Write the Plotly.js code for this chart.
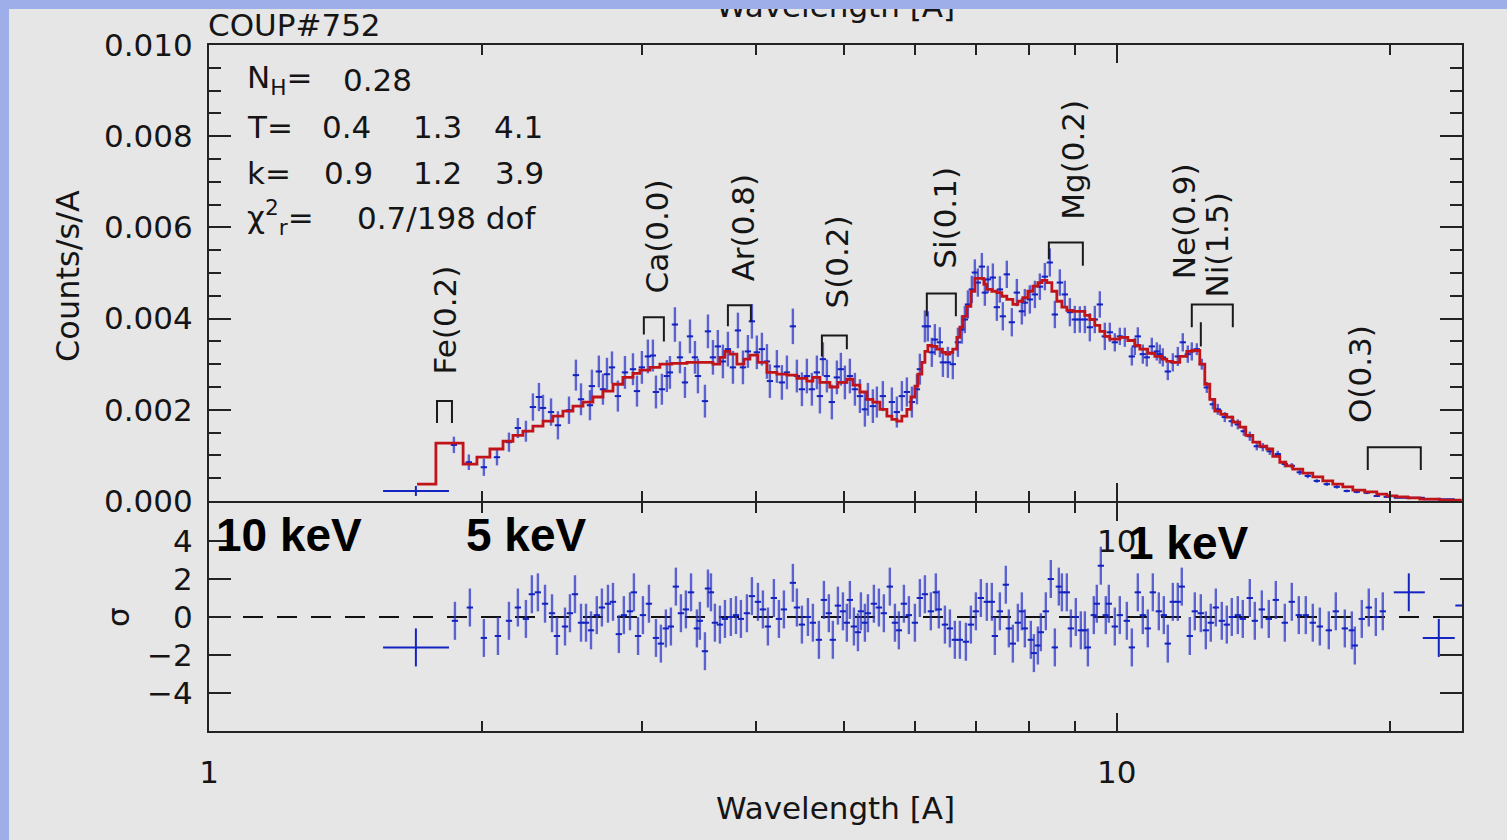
<!DOCTYPE html>
<html><head><meta charset="utf-8">
<script src="https://cdn.plot.ly/plotly-3.0.1.min.js"></script>
<style>
html,body{margin:0;padding:0;background:#9daee9;width:1507px;height:840px;overflow:hidden;}
#chart{position:absolute;left:9px;top:9px;width:1498px;height:831px;}
</style></head><body><div id="chart"></div><script>
// ---- model (red step line), wavelength [A] and counts/s/A ----
const modelWave = [1.695,1.778,1.905,1.973,2.039,2.108,2.162,2.217,2.274,2.333,2.392,2.454,2.517,2.582,2.648,2.716,2.786,2.857,2.931,2.983,3.060,3.138,3.235,3.361,3.473,3.590,3.654,3.701,3.748,3.815,3.884,3.943,4.024,4.117,4.222,4.331,4.442,4.556,4.626,4.709,4.829,4.929,5.042,5.120,5.212,5.305,5.386,5.483,5.581,5.652,5.724,5.797,5.871,5.931,5.992,6.037,6.099,6.146,6.192,6.255,6.335,6.416,6.482,6.548,6.597,6.665,6.716,6.767,6.836,6.906,6.976,7.065,7.137,7.191,7.283,7.376,7.470,7.565,7.682,7.780,7.879,7.980,8.082,8.185,8.268,8.373,8.480,8.588,8.699,8.809,8.944,9.104,9.221,9.338,9.457,9.578,9.700,9.824,9.949,10.076,10.283,10.467,10.601,10.817,11.011,11.209,11.351,11.526,11.732,11.942,12.094,12.249,12.342,12.500,12.659,12.821,13.017,13.217,13.420,13.660,13.870,14.118,14.371,14.628,14.852,15.118,15.351,15.625,16.026,16.439,16.861,17.294,17.738,18.194,18.756,19.336,19.832,20.342,20.917,21.564,22.685,23.985];
const modelFlux = [0.00037,0.00127,0.00081,0.00096,0.00114,0.00131,0.00144,0.00153,0.00164,0.00175,0.00186,0.00197,0.00208,0.00217,0.00228,0.00241,0.00256,0.00271,0.00280,0.00287,0.00293,0.00300,0.00302,0.00304,0.00304,0.00300,0.00315,0.00328,0.00322,0.00300,0.00311,0.00320,0.00304,0.00282,0.00278,0.00276,0.00269,0.00263,0.00271,0.00260,0.00250,0.00260,0.00267,0.00254,0.00239,0.00223,0.00217,0.00201,0.00186,0.00179,0.00175,0.00186,0.00201,0.00228,0.00252,0.00278,0.00304,0.00328,0.00341,0.00339,0.00333,0.00326,0.00322,0.00326,0.00333,0.00359,0.00381,0.00405,0.00427,0.00460,0.00488,0.00488,0.00475,0.00464,0.00460,0.00457,0.00449,0.00442,0.00431,0.00438,0.00446,0.00460,0.00471,0.00479,0.00484,0.00479,0.00460,0.00438,0.00425,0.00418,0.00416,0.00416,0.00407,0.00398,0.00385,0.00372,0.00361,0.00355,0.00355,0.00359,0.00352,0.00341,0.00333,0.00324,0.00317,0.00311,0.00306,0.00304,0.00317,0.00328,0.00330,0.00330,0.00300,0.00256,0.00223,0.00197,0.00190,0.00184,0.00173,0.00162,0.00144,0.00129,0.00120,0.00114,0.00098,0.00085,0.00077,0.00070,0.00061,0.00053,0.00044,0.00037,0.00031,0.00024,0.00020,0.00015,0.00011,0.00009,0.00007,0.00004,0.00002,0.00002];

// ---- observed spectrum (blue crosses) ----
const dataWave = [1.861,1.933,2.008,2.076,2.140,2.189,2.234,2.274,2.309,2.333,2.381,2.423,2.492,2.536,2.569,2.628,2.641,2.688,2.716,2.744,2.779,2.821,2.872,2.931,2.961,2.998,3.044,3.083,3.107,3.154,3.194,3.219,3.260,3.302,3.344,3.387,3.430,3.456,3.518,3.545,3.590,3.635,3.682,3.729,3.777,3.825,3.874,3.923,3.963,4.013,4.065,4.117,4.148,4.222,4.276,4.331,4.397,4.442,4.499,4.556,4.614,4.673,4.709,4.745,4.793,4.854,4.916,4.966,5.017,5.081,5.146,5.212,5.278,5.319,5.386,5.441,5.524,5.652,5.724,5.797,5.871,5.946,6.023,6.068,6.146,6.192,6.255,6.303,6.383,6.433,6.515,6.597,6.682,6.750,6.801,6.854,6.923,6.976,7.029,7.101,7.155,7.210,7.302,7.376,7.433,7.489,7.565,7.662,7.760,7.859,7.919,8.020,8.123,8.226,8.331,8.437,8.545,8.654,8.764,8.877,8.989,9.104,9.221,9.338,9.457,9.578,9.700,9.824,9.949,10.076,10.205,10.388,10.467,10.547,10.681,10.790,10.928,11.067,11.152,11.237,11.380,11.526,11.673,11.821,11.972,12.094,12.249,12.405,12.564,12.757,12.919,13.150,13.386,13.591,13.799,14.011,14.262,14.481,14.739,15.043,15.312,15.586,15.905,16.231,16.607,17.033,17.470,17.919,18.379,18.851,19.336,19.832];
const dataFlux = [0.00123,0.00085,0.00074,0.00096,0.00129,0.00160,0.00153,0.00206,0.00228,0.00204,0.00195,0.00166,0.00199,0.00276,0.00223,0.00210,0.00252,0.00284,0.00245,0.00278,0.00293,0.00230,0.00282,0.00289,0.00241,0.00293,0.00317,0.00319,0.00239,0.00245,0.00274,0.00282,0.00387,0.00315,0.00260,0.00361,0.00315,0.00274,0.00219,0.00372,0.00315,0.00339,0.00306,0.00333,0.00293,0.00374,0.00293,0.00328,0.00394,0.00326,0.00333,0.00306,0.00263,0.00295,0.00260,0.00282,0.00383,0.00274,0.00245,0.00274,0.00245,0.00282,0.00230,0.00311,0.00274,0.00217,0.00271,0.00289,0.00260,0.00274,0.00245,0.00230,0.00201,0.00223,0.00208,0.00217,0.00230,0.00217,0.00195,0.00230,0.00239,0.00217,0.00245,0.00289,0.00383,0.00383,0.00326,0.00354,0.00348,0.00304,0.00304,0.00300,0.00348,0.00376,0.00398,0.00431,0.00464,0.00501,0.00479,0.00514,0.00457,0.00486,0.00490,0.00425,0.00464,0.00405,0.00497,0.00392,0.00457,0.00416,0.00435,0.00442,0.00453,0.00470,0.00492,0.00523,0.00409,0.00479,0.00453,0.00414,0.00398,0.00398,0.00398,0.00381,0.00398,0.00431,0.00361,0.00370,0.00348,0.00361,0.00359,0.00317,0.00339,0.00361,0.00322,0.00315,0.00339,0.00328,0.00322,0.00315,0.00284,0.00304,0.00317,0.00348,0.00322,0.00328,0.00333,0.00300,0.00249,0.00212,0.00201,0.00184,0.00175,0.00168,0.00153,0.00142,0.00120,0.00118,0.00109,0.00103,0.00081,0.00077,0.00063,0.00055,0.00044,0.00037,0.00031,0.00022,0.00020,0.00018,0.00011,0.00009];
const dataErr = [0.00018,0.00017,0.00019,0.00018,0.00021,0.00022,0.00023,0.00030,0.00031,0.00029,0.00030,0.00031,0.00030,0.00034,0.00035,0.00033,0.00036,0.00035,0.00034,0.00036,0.00035,0.00034,0.00036,0.00035,0.00034,0.00036,0.00037,0.00035,0.00036,0.00034,0.00035,0.00036,0.00038,0.00035,0.00034,0.00037,0.00036,0.00038,0.00036,0.00037,0.00038,0.00036,0.00037,0.00038,0.00036,0.00039,0.00037,0.00036,0.00038,0.00037,0.00036,0.00038,0.00037,0.00036,0.00038,0.00037,0.00039,0.00036,0.00037,0.00038,0.00036,0.00037,0.00038,0.00037,0.00036,0.00038,0.00037,0.00036,0.00037,0.00038,0.00036,0.00037,0.00038,0.00036,0.00037,0.00034,0.00033,0.00032,0.00034,0.00033,0.00032,0.00034,0.00033,0.00034,0.00035,0.00033,0.00032,0.00034,0.00033,0.00032,0.00034,0.00033,0.00032,0.00031,0.00030,0.00031,0.00030,0.00029,0.00031,0.00030,0.00029,0.00030,0.00031,0.00030,0.00029,0.00031,0.00030,0.00031,0.00030,0.00029,0.00030,0.00031,0.00030,0.00029,0.00030,0.00031,0.00030,0.00029,0.00030,0.00031,0.00030,0.00029,0.00030,0.00031,0.00030,0.00029,0.00030,0.00021,0.00020,0.00019,0.00021,0.00020,0.00019,0.00020,0.00021,0.00020,0.00019,0.00020,0.00021,0.00020,0.00019,0.00020,0.00021,0.00020,0.00019,0.00020,0.00013,0.00012,0.00012,0.00011,0.00012,0.00011,0.00012,0.00011,0.00010,0.00010,0.00009,0.00009,0.00008,0.00007,0.00007,0.00006,0.00006,0.00005,0.00004,0.00004,0.00004,0.00003,0.00003,0.00003];
// wide bins (low / high edges)
const wideWave = [1.690,20.970,22.628];
const wideFlux = [0.00022,0.00007,0.00004];
const wideErr  = [0.00011,0.00003,0.00003];
const wideLo   = [1.555,20.187,21.728];
const wideHi   = [1.838,21.840,23.563];

// ---- residuals (sigma) ----
const residWave = [1.866,1.938,2.008,2.081,2.140,2.189,2.234,2.268,2.303,2.345,2.387,2.417,2.467,2.498,2.530,2.569,2.602,2.635,2.674,2.709,2.751,2.786,2.828,2.864,2.909,2.938,2.969,3.006,3.052,3.107,3.146,3.186,3.227,3.268,3.310,3.352,3.396,3.447,3.473,3.518,3.545,3.572,3.608,3.654,3.701,3.757,3.806,3.854,3.913,3.963,4.024,4.075,4.127,4.190,4.244,4.298,4.397,4.442,4.499,4.568,4.626,4.697,4.757,4.817,4.866,4.929,4.992,5.042,5.081,5.133,5.186,5.225,5.278,5.319,5.400,5.469,5.538,5.623,5.696,5.753,5.827,5.901,5.992,6.068,6.146,6.239,6.319,6.367,6.466,6.548,6.631,6.716,6.819,6.906,6.994,7.083,7.191,7.283,7.339,7.433,7.546,7.604,7.682,7.780,7.859,7.919,8.040,8.103,8.185,8.247,8.352,8.458,8.545,8.632,8.699,8.809,8.899,9.012,9.127,9.221,9.292,9.433,9.505,9.602,9.724,9.799,9.949,10.076,10.257,10.388,10.547,10.681,10.817,10.956,11.124,11.266,11.380,11.526,11.673,11.791,12.033,12.187,12.373,12.532,12.691,12.854,13.050,13.217,13.386,13.591,13.764,14.011,14.190,14.445,14.702,14.967,15.312,15.586,15.865,16.149,16.439,16.735,17.120,17.426,17.829,18.148,18.287,18.614,18.947,19.288,19.632];
const residSigma = [-0.2,0.5,-1.1,-1.0,-0.2,0.5,-0.1,1.2,1.3,0.7,0.2,-1.0,-0.5,0.2,1.2,-0.3,-0.3,-0.7,0.1,0.5,0.7,0.8,-0.9,0.1,0.3,1.3,-1.0,0.1,0.7,-1.1,-1.4,-0.6,-0.5,1.6,0.2,0.4,1.3,-0.6,-0.2,-1.8,1.5,1.3,-0.3,-0.4,-0.1,0.0,0.1,-0.1,0.2,1.1,0.8,0.4,-0.5,1.0,-0.1,0.4,1.8,0.5,-0.4,0.0,-0.3,-1.2,0.9,0.2,-1.2,0.6,0.3,-0.3,0.9,-0.5,-0.8,0.3,-0.3,0.2,0.7,0.5,0.2,1.6,-0.3,-0.7,0.7,0.1,-0.3,1.0,1.2,0.3,1.3,0.4,-0.4,-0.6,-1.2,-1.2,-1.3,-0.4,0.3,1.0,0.8,0.8,-1.0,0.3,1.7,-0.6,-1.4,-0.3,0.3,-0.6,-1.2,-1.9,-1.5,-0.8,0.3,2.0,-1.6,1.6,1.3,1.3,-0.6,0.0,-0.7,-0.7,-1.6,0.1,0.7,2.7,0.1,0.7,-0.5,0.1,-0.2,-1.6,1.3,0.1,-0.6,1.3,0.3,0.1,-1.4,0.8,0.8,1.6,-1.0,0.3,0.2,-0.7,-0.3,0.5,-0.2,-0.4,0.0,0.1,-0.1,1.0,-0.2,0.4,-0.1,0.9,-0.3,0.8,0.1,0.1,-0.3,-0.5,-0.7,0.3,-0.6,-0.7,-1.5,-0.1,0.5,0.0,0.3];
const residWideWave  = [1.690,20.970,22.628,25.50];
const residWideSigma = [-1.6,1.3,-1.1,0.6];
const residWideLo    = [1.555,20.187,21.728,23.60];
const residWideHi    = [1.838,21.840,23.563,27.50];
const zeroWave = [1, 24];
const zeroSigma = [0, 0];

// ---- line identifications ----
const lineLabels = ['Fe(0.2)','Ca(0.0)','Ar(0.8)','S(0.2)','Si(0.1)','Mg(0.2)','Ne(0.9)','Ni(1.5)','O(0.3)'];
const labelWave  = [1.819,3.115,3.874,4.917,6.466,8.944,11.881,12.886,18.52];
const labelFlux  = [0.00398,0.00580,0.00600,0.00525,0.00621,0.00748,0.00613,0.00562,0.00278];
const bracketLeft   = [1.783,3.013,3.729,4.733,6.176,8.416,12.094,18.898];
const bracketRight  = [1.852,3.170,3.953,5.042,6.648,9.174,13.420,21.618];
const bracketTop    = [0.00219,0.00403,0.00429,0.00363,0.00455,0.00567,0.00431,0.00118];
const bracketLeftEnd  = [0.00171,0.00365,0.00383,0.00317,0.00405,0.00530,0.00381,0.00068];
const bracketRightEnd = [0.00171,0.00350,0.00394,0.00333,0.00405,0.00516,0.00381,0.00068];
const niTickWave = [12.374,12.374];
const niTickFlux = [0.00392,0.00339];

// ---- build bracket polylines ----
const bx = [], by = [];
for (let i = 0; i < bracketLeft.length; i++) {
  bx.push(bracketLeft[i], bracketLeft[i], bracketRight[i], bracketRight[i], null);
  by.push(bracketLeftEnd[i], bracketTop[i], bracketTop[i], bracketRightEnd[i], null);
}
bx.push(niTickWave[0], niTickWave[1]);
by.push(niTickFlux[0], niTickFlux[1]);

const ERRY = 'rgba(45,55,200,0.75)';
const ERRX = '#1424c2';

const traces = [
  {x: dataWave, y: dataFlux, xaxis:'x', yaxis:'y', mode:'markers', type:'scatter',
   marker:{size:2, color:ERRX},
   error_y:{type:'data', array:dataErr, color:ERRY, thickness:2.4, width:0},
   error_x:{type:'percent', value:0.8, color:ERRX, thickness:2, width:0}},
  {x: wideWave, y: wideFlux, xaxis:'x', yaxis:'y', mode:'markers', type:'scatter',
   marker:{size:2, color:ERRX},
   error_y:{type:'data', array:wideErr, color:ERRX, thickness:2, width:0},
   error_x:{type:'data', symmetric:false, array:wideHi.map((h,i)=>h-wideWave[i]), arrayminus:wideLo.map((l,i)=>wideWave[i]-l), color:ERRX, thickness:2, width:0}},
  {x: modelWave, y: modelFlux, xaxis:'x', yaxis:'y', mode:'lines', type:'scatter',
   line:{color:'#c0141a', width:2.8, shape:'hv'}},
  {x: bx, y: by, xaxis:'x', yaxis:'y', mode:'lines', type:'scatter', connectgaps:false,
   line:{color:'#1a1a1a', width:2}},
  {x: zeroWave, y: zeroSigma, xaxis:'x2', yaxis:'y2', mode:'lines', type:'scatter',
   line:{color:'#111', width:2, dash:'20px,14px'}},
  {x: residWave, y: residSigma, xaxis:'x2', yaxis:'y2', mode:'markers', type:'scatter',
   marker:{size:2, color:ERRX},
   error_y:{type:'constant', value:1, color:ERRY, thickness:2.4, width:0},
   error_x:{type:'percent', value:0.8, color:ERRX, thickness:2, width:0}},
  {x: residWideWave, y: residWideSigma, xaxis:'x2', yaxis:'y2', mode:'markers', type:'scatter',
   marker:{size:2, color:ERRX},
   error_y:{type:'constant', value:1, color:ERRX, thickness:2, width:0},
   error_x:{type:'data', symmetric:false, array:residWideHi.map((h,i)=>h-residWideWave[i]), arrayminus:residWideLo.map((l,i)=>residWideWave[i]-l), color:ERRX, thickness:2, width:0}}
];

// pixel helpers (full-image coordinates of plot frame: x 209..1462, y 45..731)
const PX = p => (p - 209) / 1253;
const PY = p => (731 - p) / 686;
const FONT = 'DejaVu Sans';
const TXT = '#151515';
const ann = [];
function txt(text, px, py, opts) {
  ann.push(Object.assign({text:text, xref:'paper', yref:'paper', x:PX(px), y:PY(py),
    xanchor:'left', yanchor:'middle', showarrow:false,
    font:{family:FONT, size:31, color:TXT}}, opts || {}));
}
txt('COUP#752', 206, 25);
txt('Wavelength [A]', 835, 6, {xanchor:'center'});
txt('Wavelength [A]', 835, 808, {xanchor:'center'});
txt('Counts/s/A', 68, 276, {xanchor:'center', textangle:-90, font:{family:FONT, size:32, color:TXT}});
txt('σ', 118, 617, {xanchor:'center', textangle:-90});
txt('N<sub>H</sub>=', 245, 80);  txt('0.28', 341, 80);
txt('T=', 245, 127);  txt('0.4', 320, 127); txt('1.3', 411, 127); txt('4.1', 492, 127);
txt('k=', 245, 173);  txt('0.9', 322, 173); txt('1.2', 411, 173); txt('3.9', 493, 173);
txt('χ<sup>2</sup><sub>r</sub>=', 245, 218); txt('0.7/198 dof', 355, 218);
const KEV = {font:{family:'Liberation Sans', size:46, color:'#000'}};
txt('<b>10 keV</b>', 214, 535, KEV);
txt('<b>5 keV</b>', 464, 535, KEV);
txt('<b>1 keV</b>', 1126, 543, KEV);
for (let i = 0; i < lineLabels.length; i++) {
  ann.push({text: lineLabels[i], xref:'x', yref:'y', x: Math.log10(labelWave[i]), y: labelFlux[i],
    textangle:-90, showarrow:false, xanchor:'center', yanchor:'middle',
    font:{family:FONT, size:31, color:TXT}});
}

const axLine = {showline:true, linecolor:'#222', linewidth:2, mirror:'allticks', showgrid:false, zeroline:false,
  ticks:'inside', tickcolor:'#222', tickwidth:2, tickfont:{family:FONT, size:31, color:TXT}};
const xMinor = {tickvals:[2,3,4,5,6,7,8,9,20], ticks:'inside', ticklen:10, tickwidth:2, tickcolor:'#222', showgrid:false};

const layout = {
  width:1498, height:831,
  paper_bgcolor:'#e6e6e6', plot_bgcolor:'#e6e6e6',
  margin:{l:200, r:45, t:36, b:109},
  showlegend:false,
  font:{family:FONT, size:31, color:TXT},
  xaxis: Object.assign({}, axLine, {type:'log', range:[0, Math.log10(24)], anchor:'y',
    tickvals:[1,10], ticktext:['','10'], ticklen:18, ticklabelstandoff:12, minor:xMinor}),
  xaxis2: Object.assign({}, axLine, {type:'log', range:[0, Math.log10(24)], anchor:'y2',
    tickvals:[1,10], ticktext:['1','10'], ticklen:18, ticklabelstandoff:13, minor:xMinor}),
  yaxis: Object.assign({}, axLine, {domain:[0.3353,1], range:[0,0.010], anchor:'x',
    tickvals:[0,0.002,0.004,0.006,0.008,0.010], ticktext:['0.000','0.002','0.004','0.006','0.008','0.010'],
    ticklen:22, ticklabelstandoff:8,
    minor:{dtick:0.0005, ticks:'inside', ticklen:12, tickwidth:2, tickcolor:'#222', showgrid:false}}),
  yaxis2: Object.assign({}, axLine, {domain:[0,0.3323], range:[-6,6], anchor:'x2',
    tickvals:[-4,-2,0,2,4], ticklen:22, ticklabelstandoff:8}),
  annotations: ann
};

Plotly.newPlot('chart', traces, layout, {staticPlot:true, displayModeBar:false});
</script></body></html>
